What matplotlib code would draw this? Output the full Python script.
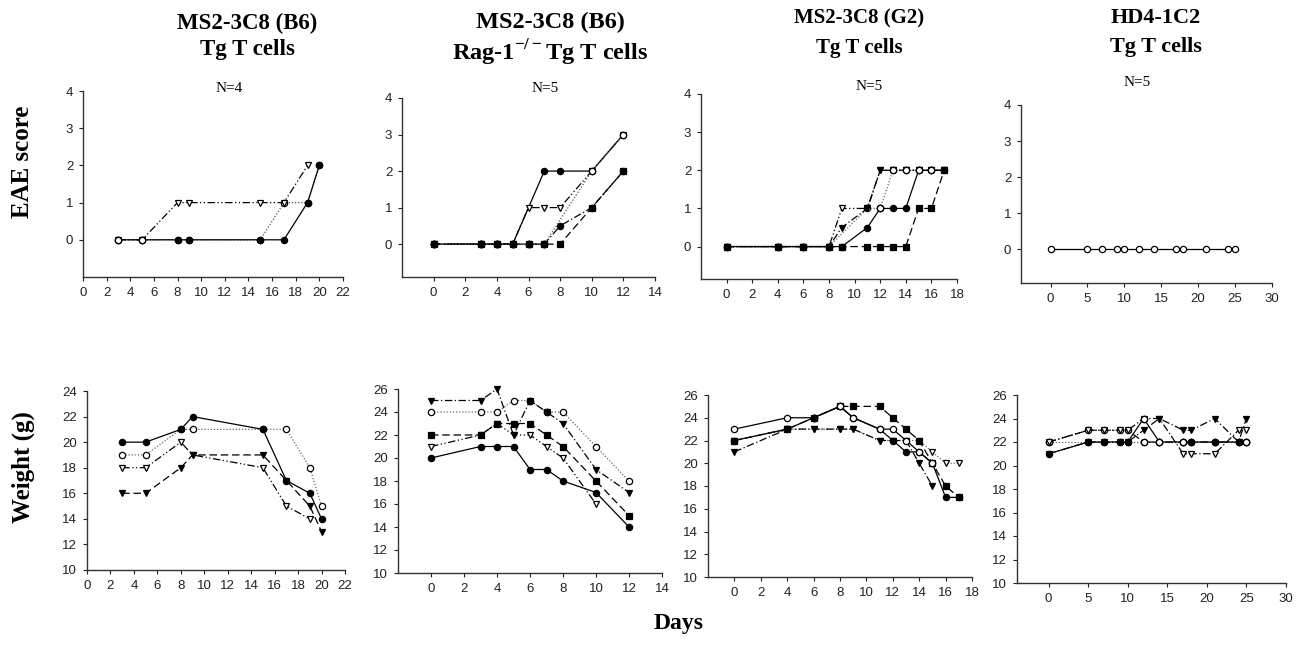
import numpy as np
import matplotlib.pyplot as plt

W, H = 1302, 646

# ---- titles ----
titles = [
    ("MS2-3C8 (B6)", "Tg T cells"),
    ("MS2-3C8 (B6)", r"Rag-1$^{\mathregular{-/-}}$Tg T cells"),
    ("MS2-3C8 (G2)", "Tg T cells"),
    ("HD4-1C2", "Tg T cells"),
]
n_labels = ["N=4", "N=5", "N=5", "N=5"]

# ---- EAE score data ----
eae1_x = [3, 5, 8, 9, 15, 17, 19, 20]
eae1_a = [0, 0, 0, 0, 0, 0, 1, 2]
eae1_b = [0, 0, 0, 0, 0, 1, 1, 2]
eae1_c = [0, 0, 1, 1, 1, 1, 2]

eae2_x = [0, 3, 4, 5, 6, 7, 8, 10, 12]
eae2_a_x = [0, 3, 4, 5, 7, 8, 10, 12]
eae2_a = [0, 0, 0, 0, 2, 2, 2, 3]
eae2_b_x = [0, 3, 4, 5, 6, 7, 10, 12]
eae2_b = [0, 0, 0, 0, 0, 0, 2, 3]
eae2_c = [0, 0, 0, 0, 1, 1, 1, 2, 3]
eae2_d = [0, 0, 0, 0, 0, 0, 0.5, 1, 2]
eae2_e = [0, 0, 0, 0, 0, 0, 0, 1, 2]

eae3_x = [0, 4, 6, 8, 9, 11, 12, 13, 14, 15, 16, 17]
eae3_a = [0, 0, 0, 0, 0, 0.5, 1, 1, 1, 2, 2, 2]
eae3_b = [0, 0, 0, 0, 0, 0, 0, 0, 0, 1, 1, 2]
eae3_c = [0, 0, 0, 0, 1, 1, 2, 2, 2, 2, 2, 2]
eae3_d = [0, 0, 0, 0, 0.5, 1, 2, 2, 2, 2, 2, 2]
eae3_e_x = [0, 4, 6, 8, 11, 12, 13, 14, 15, 16]
eae3_e = [0, 0, 0, 0, 1, 1, 2, 2, 2, 2]

eae4_x = [0, 5, 7, 9, 10, 12, 14, 17, 18, 21, 24, 25]
eae4_a = [0] * 12

# ---- weight data ----
wt1_x = [3, 5, 8, 9, 15, 17, 19, 20]
wt1_a = [20, 20, 21, 22, 21, 17, 16, 14]
wt1_b = [19, 19, 21, 21, 21, 21, 18, 15]
wt1_c_x = [3, 5, 8, 9, 15, 17, 19]
wt1_c = [18, 18, 20, 19, 18, 15, 14]
wt1_d = [16, 16, 18, 19, 19, 17, 15, 13]

wt2_x = [0, 3, 4, 5, 6, 7, 8, 10, 12]
wt2_a = [20, 21, 21, 21, 19, 19, 18, 17, 14]
wt2_b = [24, 24, 24, 25, 25, 24, 24, 21, 18]
wt2_c = [22, 22, 23, 23, 23, 22, 21, 18, 15]
wt2_d_x = [0, 3, 4, 5, 6, 7, 8, 10]
wt2_d = [21, 22, 23, 22, 22, 21, 20, 16]
wt2_e = [25, 25, 26, 22, 25, 24, 23, 19, 17]

wt3_x = [0, 4, 6, 8, 9, 11, 12, 13, 14, 15, 16, 17]
wt3_a_x = [0, 4, 6, 8, 9, 11, 12, 13, 14, 15]
wt3_a = [23, 24, 24, 25, 24, 23, 23, 22, 21, 20]
wt3_b = [22, 23, 24, 25, 24, 23, 22, 21, 21, 20, 17, 17]
wt3_c = [22, 23, 24, 25, 25, 25, 24, 23, 22, 20, 18, 17]
wt3_d = [22, 23, 23, 23, 23, 22, 22, 22, 22, 21, 20, 20]
wt3_e_x = [0, 4, 6, 8, 9, 11, 12, 13, 14, 15]
wt3_e = [21, 23, 23, 23, 23, 22, 22, 22, 20, 18]

wt4_x = [0, 5, 7, 9, 10, 12, 14, 17, 18, 21, 24, 25]
wt4_a = [21, 22, 22, 22, 22, 24, 22, 22, 22, 22, 22, 22]
wt4_b = [21, 22, 22, 22, 22, 23, 24, 23, 23, 24, 22, 24]
wt4_c = [22, 22, 22, 22, 22, 22, 22, 22, 22, 22, 22, 22]
wt4_d = [22, 23, 23, 23, 23, 24, 24, 21, 21, 21, 23, 23]
wt4_e = [22, 23, 23, 23, 23, 22, 22, 22, 22, 22, 22, 22]

# ---- axes layout in pixels: left, right, top, bottom ----
rects = [
    (83, 343, 91, 277), (402, 655, 98, 277), (701, 957, 94, 279), (1021, 1272, 105, 283),
    (87, 345, 391, 570), (398, 662, 389, 573), (708, 972, 395, 577), (1017, 1286, 395, 583),
]
xlims = [(0, 22), (-2, 14), (-2, 18), (-4, 30)] * 2
xticks = [np.arange(0, 23, 2), np.arange(0, 15, 2), np.arange(0, 19, 2), np.arange(0, 31, 5)] * 2
ylims_top = [(-1, 4), (-0.9, 4), (-0.85, 4), (-0.94, 4)]
ylims_bot = [(10, 24), (10, 26), (10, 26), (10, 26)]

plt.rcParams['font.family'] = 'Liberation Sans'
fig = plt.figure(figsize=(W / 100, H / 100), dpi=100)

axes = []
for i, (l, r, t, b) in enumerate(rects):
    ax = fig.add_axes([l / W, 1 - b / H, (r - l) / W, (b - t) / H])
    ax.spines['top'].set_visible(False)
    ax.spines['right'].set_visible(False)
    for s in ('left', 'bottom'):
        ax.spines[s].set_linewidth(1.0)
        ax.spines[s].set_color('#333333')
    ax.set_xlim(*xlims[i])
    ax.set_xticks(xticks[i])
    if i < 4:
        ax.set_ylim(*ylims_top[i])
        ax.set_yticks(range(0, 5))
    else:
        ax.set_ylim(*ylims_bot[i - 4])
        ax.set_yticks(range(10, ylims_bot[i - 4][1] + 1, 2))
    ax.tick_params(direction='out', length=3, width=0.8, labelsize=9.5, colors='#222222', pad=4)
    ax.patch.set_alpha(0)
    axes.append(ax)


def line(ax, x, y, ls, marker, filled, color='black'):
    ax.plot(x, y, linestyle=ls, color=color, linewidth=0.9, marker=marker, markersize=4.5,
            markerfacecolor='black' if filled else 'white', markeredgecolor='black',
            markeredgewidth=0.9, clip_on=False)


dashdot = (0, (6, 2, 1, 2))
dashdotdot = (0, (6, 2, 1, 2, 1, 2))
dashed = (0, (6, 3))
dotted = (0, (1, 1.5))

# EAE panels
ax = axes[0]
line(ax, eae1_x, eae1_b, dotted, 'o', False, '#555555')
line(ax, eae1_x[:7], eae1_c, dashdotdot, 'v', False)
line(ax, eae1_x, eae1_a, '-', 'o', True)
line(ax, eae1_x[:2], eae1_b[:2], 'none', 'o', False)

ax = axes[1]
line(ax, eae2_x, eae2_e, dashed, 's', True)
line(ax, eae2_x, eae2_d, dashdot, 'o', True)
line(ax, eae2_a_x, eae2_a, '-', 'o', True)
line(ax, eae2_x, eae2_c, dashdotdot, 'v', False)
line(ax, eae2_b_x, eae2_b, dotted, 'o', False, '#555555')
line(ax, eae2_x[:6], eae2_a[:4] + [0, 0], 'none', 'o', True)

ax = axes[2]
line(ax, eae3_e_x, eae3_e, dotted, 'o', False, '#666666')
line(ax, eae3_x, eae3_c, dashdotdot, 'v', False)
line(ax, eae3_x, eae3_d, dashdot, 'v', True)
line(ax, eae3_x, eae3_a, '-', 'o', True)
line(ax, eae3_x, eae3_b, dashed, 's', True)
line(ax, [12, 13, 14, 15, 16], [1, 2, 2, 2, 2], 'none', 'o', False)

ax = axes[3]
line(ax, eae4_x, eae4_a, '-', 'o', False)

# weight panels
ax = axes[4]
line(ax, wt1_x, wt1_b, dotted, 'o', False, '#666666')
line(ax, wt1_c_x, wt1_c, dashdotdot, 'v', False)
line(ax, wt1_x, wt1_d, dashed, 'v', True)
line(ax, wt1_x, wt1_a, '-', 'o', True)

ax = axes[5]
line(ax, wt2_x, wt2_b, dotted, 'o', False, '#666666')
line(ax, wt2_d_x, wt2_d, dashdotdot, 'v', False)
line(ax, wt2_x, wt2_c, dashed, 's', True)
line(ax, wt2_x, wt2_e, dashdot, 'v', True)
line(ax, wt2_x, wt2_a, '-', 'o', True)
line(ax, [6, 7], [25, 24], 'none', 'o', True)

ax = axes[6]
line(ax, wt3_x, wt3_d, dotted, 'v', False, '#666666')
line(ax, wt3_e_x, wt3_e, dashdot, 'v', True)
line(ax, wt3_x, wt3_c, dashed, 's', True)
line(ax, wt3_x, wt3_b, '-', 'o', True)
line(ax, wt3_a_x, wt3_a, '-', 'o', False)
line(ax, [6], [24], 'none', 'o', True)

ax = axes[7]
line(ax, wt4_x, wt4_c, dotted, 'o', False, '#666666')
line(ax, wt4_x, wt4_e, dashdotdot, 'o', False)
line(ax, wt4_x, wt4_d, dashdot, 'v', False)
line(ax, wt4_x, wt4_b, dashdot, 'v', True)
line(ax, wt4_x, wt4_a, '-', 'o', True)
line(ax, [12, 14, 17, 25], [24, 22, 22, 22], 'none', 'o', False)

# ---- text ----
serif = 'Liberation Serif'
title_pos = [(247, 23, 50, 16.5), (550, 22, 53, 17.5), (859, 18, 48, 15), (1156, 18, 47, 16)]
for (t1, t2), (cx, y1, y2, fs) in zip(titles, title_pos):
    fig.text(cx / W, 1 - y1 / H, t1, family=serif, weight='bold', fontsize=fs, ha='center', va='center')
    fig.text(cx / W, 1 - y2 / H, t2, family=serif, weight='bold', fontsize=fs, ha='center', va='center')

n_pos = [(229, 88), (545, 89), (869, 86), (1137, 82)]
for lab, (cx, cy) in zip(n_labels, n_pos):
    fig.text(cx / W, 1 - cy / H, lab, family=serif, fontsize=11, ha='center', va='center')

fig.text(23 / W, 1 - 162 / H, "EAE score", family=serif, weight='bold', fontsize=18,
         rotation=90, ha='center', va='center')
fig.text(23 / W, 1 - 467 / H, "Weight (g)", family=serif, weight='bold', fontsize=18,
         rotation=90, ha='center', va='center')
fig.text(679 / W, 1 - 624 / H, "Days", family=serif, weight='bold', fontsize=17,
         ha='center', va='center')

fig.savefig("out.png", dpi=100)
